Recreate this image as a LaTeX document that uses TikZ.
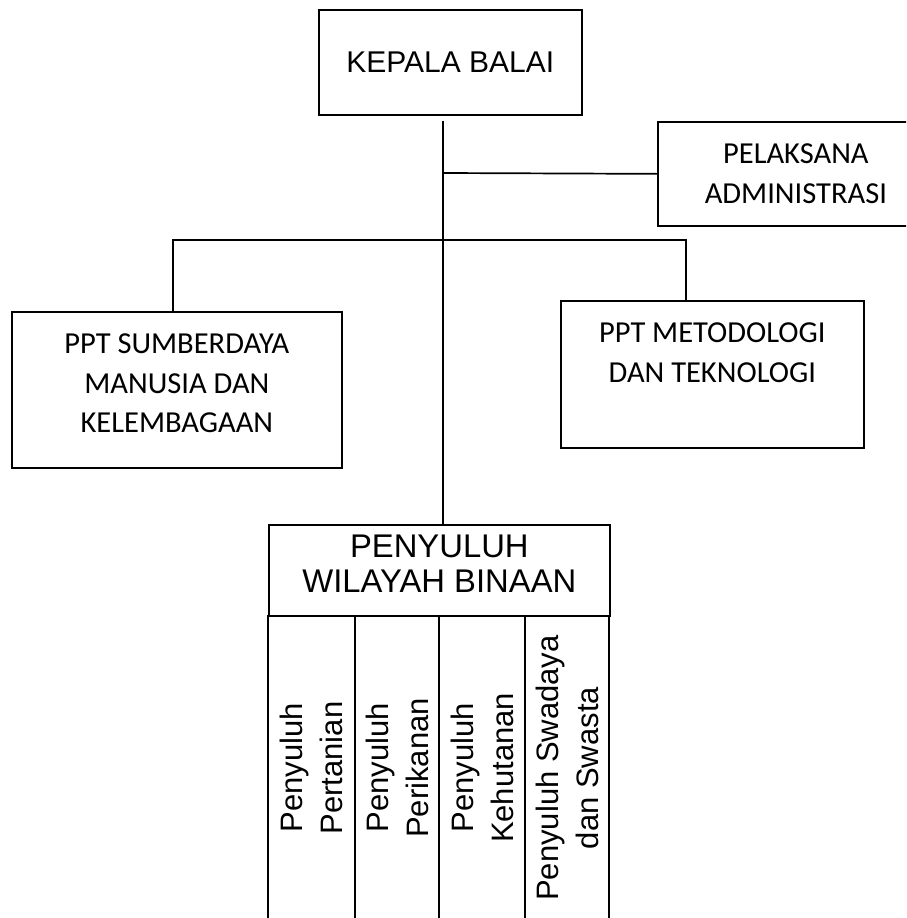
\documentclass[tikz,border=0pt]{standalone}
\usepackage{fontspec}
\setmainfont{Liberation Sans}
\newfontfamily\calibri{Carlito}
\usetikzlibrary{positioning,calc}

\begin{document}
\begin{tikzpicture}[
    x=1pt, y=-1pt,
    line width=1.7pt,
    box/.style={draw, anchor=north west, align=center, inner sep=0pt},
    headtxt/.style={font=\fontsize{30}{34}\selectfont},
    pwbtxt/.style={font=\fontsize{32.8}{35}\selectfont},
    calitxt/.style={font=\calibri\fontsize{30.5}{39.5}\selectfont},
    coltxt/.style={rotate=90, align=center, inner sep=0pt,
                   font=\fontsize{31}{40}\selectfont},
]
\clip (0,0) rectangle (906,918);

% --- Head of the office and its administration ---
\node[box, headtxt, minimum width=263pt, minimum height=105pt] (kepala) at (318,9) {KEPALA BALAI};
\node[box, calitxt, minimum width=276pt, minimum height=104pt] (admin) at (657,121) {PELAKSANA\\ADMINISTRASI};

% --- The two PPT units ---
\node[box, calitxt, minimum width=330pt, minimum height=156pt, text depth=13pt] (sdm) at (11,311)
     {PPT SUMBERDAYA\\MANUSIA DAN\\KELEMBAGAAN};
\node[box, calitxt, minimum width=303pt, minimum height=147pt, text depth=44pt] (metod) at (560,300)
     {PPT METODOLOGI\\DAN TEKNOLOGI};

% --- Field extension workers, header and four open columns ---
\node[box, pwbtxt, minimum width=341pt, minimum height=91pt, text depth=14pt] (pwb) at (268,524)
     {PENYULUH\\WILAYAH BINAAN};
\foreach \x in {268,355,439,525,609}
  \draw (\x,615) -- (\x,930);
\node[coltxt] (pertanian) at (311.5,768) {Penyuluh\\Pertanian};
\node[coltxt] (perikanan) at (397,768)   {Penyuluh\\Perikanan};
\node[coltxt] (kehutanan) at (482,768)   {Penyuluh\\Kehutanan};
\node[coltxt] (swasta)    at (567,768)   {Penyuluh Swadaya\\dan Swasta};

% --- Lines of command ---
\coordinate (trunk) at (443,173);
\coordinate (dropL) at (173,240);
\coordinate (dropR) at (686,240);
\draw[shorten <=5pt] (kepala.south -| trunk) -- (pwb.north -| trunk);
\draw (trunk) -- (admin.west);
\draw (sdm.north -| dropL) -- (dropL) -- (dropR) -- (metod.north -| dropR);

\end{tikzpicture}
\end{document}
